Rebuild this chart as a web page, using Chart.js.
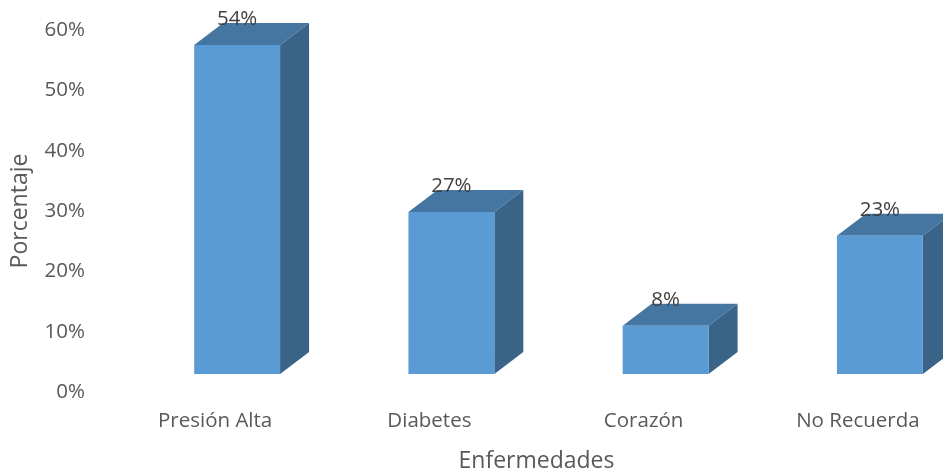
<!DOCTYPE html>
<html>
<head>
<meta charset="utf-8">
<script src="https://cdn.jsdelivr.net/npm/chart.js@4"></script>
<style>
html,body {margin:0;padding:0;background:#fff;width:943px;height:472px;overflow:hidden;}
canvas {display:block;}
</style>
</head>
<body>
<canvas id="canvas" width="1000" height="472"></canvas>
<script>
var categories = ["Presión Alta", "Diabetes", "Corazón", "No Recuerda"];
var values = [54, 26.6, 7.9, 22.7];
var axisTicks = [0, 10, 20, 30, 40, 50, 60];

var FONT = "'Open Sans'";
var shiftX = 22;   // bars sit to the right of their labels, like the excel 3d chart
var depthX = 29;
var depthY = 22;

var bars3d = {
  id: "bars3d",
  beforeDatasetsDraw: function(chart) {
    var ctx = chart.ctx;
    ctx.save();
    ctx.translate(shiftX, 0);  // restored in afterDatasetsDraw
    chart.getDatasetMeta(0).data.forEach(function(bar) {
      var l = bar.x - bar.width / 2, r = bar.x + bar.width / 2;
      var t = bar.y, b = bar.base;
      // top face
      ctx.fillStyle = "#4575A1";
      ctx.beginPath();
      ctx.moveTo(l, t);
      ctx.lineTo(l + depthX, t - depthY);
      ctx.lineTo(r + depthX, t - depthY);
      ctx.lineTo(r, t);
      ctx.closePath();
      ctx.fill();
      // side face
      ctx.fillStyle = "#3A6487";
      ctx.beginPath();
      ctx.moveTo(r, t);
      ctx.lineTo(r + depthX, t - depthY);
      ctx.lineTo(r + depthX, b - depthY);
      ctx.lineTo(r, b);
      ctx.closePath();
      ctx.fill();
    });
  },
  afterDatasetsDraw: function(chart) {
    var ctx = chart.ctx;
    ctx.restore();
    ctx.save();
    ctx.fillStyle = "#404040";
    ctx.font = "20.5px " + FONT;
    ctx.textAlign = "center";
    ctx.textBaseline = "middle";
    chart.getDatasetMeta(0).data.forEach(function(bar, i) {
      ctx.fillText(Math.round(values[i]) + "%", bar.x + shiftX, bar.y - 26);
    });
    ctx.restore();
  }
};

new Chart(document.getElementById("canvas"), {
  type: "bar",
  data: {
    labels: categories,
    datasets: [{
      data: values,
      yAxisID: "yBars",
      backgroundColor: "#5B9BD5",
      barPercentage: 0.401,
      categoryPercentage: 1,
      clip: false
    }]
  },
  plugins: [bars3d],
  options: {
    responsive: false,
    animation: false,
    layout: {padding: {top: 30, right: 35, bottom: 0, left: 7}},
    plugins: {legend: {display: false}, tooltip: {enabled: false}},
    scales: {
      x: {
        grid: {display: false},
        border: {display: false},
        ticks: {color: "#595959", font: {family: FONT, size: 20.5}, padding: 9, maxRotation: 0, autoSkip: false},
        title: {display: true, text: "Enfermedades", color: "#595959", font: {family: FONT, size: 23}, padding: {top: 0, bottom: -3}},
        afterFit: function(s) { s.height = 80; }
      },
      y: {
        position: "left",
        min: 0,
        max: 60,
        grid: {display: false},
        border: {display: false},
        afterBuildTicks: function(s) { s.ticks = axisTicks.map(function(v) { return {value: v}; }); },
        ticks: {color: "#595959", font: {family: FONT, size: 20.5}, padding: 15, callback: function(v) { return v + "%"; }},
        title: {display: true, text: "Porcentaje", color: "#595959", font: {family: FONT, size: 23}, padding: {top: 0, bottom: 0}},
        afterFit: function(s) { s.width = 101; }
      },
      // bars stand on the front of the floor, a bit above the 0% label
      yBars: {
        display: false,
        min: -2.96,
        max: 56.48
      }
    }
  }
});
</script>
</body>
</html>
